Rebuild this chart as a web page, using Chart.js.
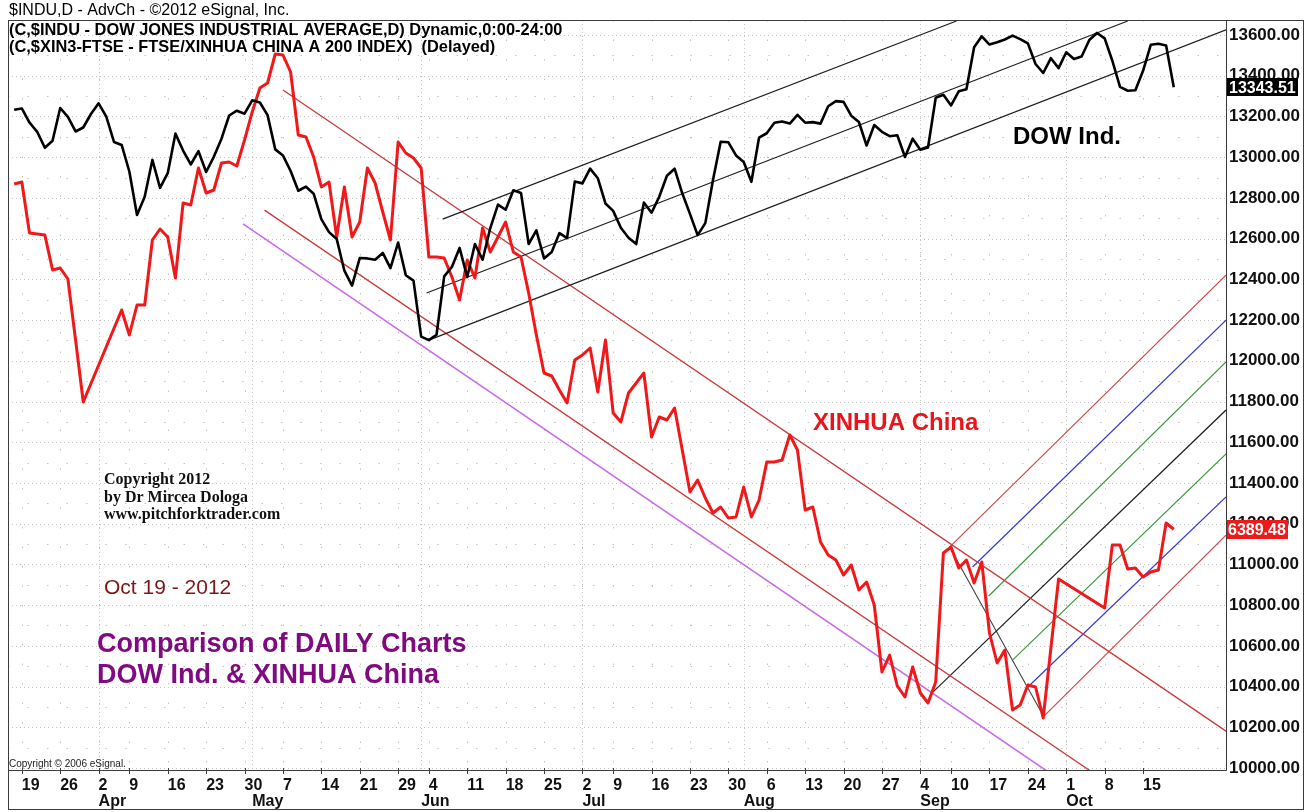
<!DOCTYPE html>
<html><head><meta charset="utf-8">
<script src="https://cdn.jsdelivr.net/npm/chart.js@4.4.0/dist/chart.umd.min.js"></script>
<style>html,body{margin:0;padding:0;background:#fff;}#wrap{width:1312px;height:812px;}</style>
</head><body><div id="wrap"><canvas id="c" width="1312" height="812"></canvas></div>
<script>
// trading-day index of the first close (Mar 16, 2012); Mar 19 = 0, Oct 19 = 150
const firstIndex = -1;

// DOW Jones Industrial Average daily closes, Mar 16 .. Oct 19 2012
const dowClose = [
13232.62,13239.13,13170.19,13124.62,13046.14,13080.73,13241.63,13197.73,13126.21,13145.82,13212.04,
13264.49,13199.55,13074.75,13060.14,12929.59,12715.93,12805.39,12986.58,12849.59,12921.41,13115.54,13032.75,12964.10,13029.26,12927.17,13001.56,13090.72,13204.62,13228.31,13213.63,
13279.32,13268.57,13206.59,13038.27,13008.53,12932.09,12835.06,12855.04,12820.60,12695.35,12632.00,12598.55,12442.49,12369.38,12504.48,12502.81,12496.15,12529.75,12454.83,12580.69,12419.86,12393.45,
12118.57,12101.46,12127.95,12414.79,12460.96,12554.20,12411.23,12573.80,12496.38,12651.91,12767.17,12741.82,12837.33,12824.39,12573.57,12640.78,12502.66,12534.67,12627.01,12602.26,12880.09,
12871.39,12943.82,12896.67,12772.47,12736.29,12653.12,12604.53,12573.27,12777.09,12727.21,12805.54,12908.70,12943.36,12822.57,12721.46,12617.32,12676.05,12887.93,13075.66,13073.01,13008.68,
12976.13,12878.88,13096.17,13117.51,13168.60,13175.64,13165.19,13207.95,13169.43,13172.14,13164.78,13250.11,13275.20,13271.64,13203.58,13172.76,13057.46,13157.97,13124.67,13102.99,13107.48,13000.71,13090.84,
13035.94,13047.48,13292.00,13306.64,13254.29,13323.36,13333.35,13539.86,13593.37,13553.10,13564.64,13577.96,13596.93,13579.47,13558.92,13457.55,13413.51,13485.97,13437.13,
13515.11,13482.36,13494.61,13575.36,13610.15,13583.65,13473.53,13344.97,13326.39,13328.85,13424.23,13551.78,13557.00,13548.94,13343.51
];

// FTSE/Xinhua China A200 closes on the same days (null = China market holiday)
const xinClose = [
7080,7084,6982,6980,6978,6908,6912,6890,6768,6644,null,
null,null,null,6828,6778,6838,6838,6968,6990,6974,6892,7042,7038,7112,7062,7068,7122,7124,7116,7168,
7224,7272,7282,7340,7338,7304,7178,7174,7134,7074,7084,6974,7074,6974,7004,7112,7082,7024,6968,7164,7142,7132,
7112,6934,6934,6932,6894,6848,6928,6892,6992,6944,6974,7004,6944,6934,6862,6778,6702,6696,6668,6642,6728,
6738,6752,6664,6768,6622,6604,6662,6682,6702,6574,6614,6608,6632,6548,6464,6488,6452,6422,6434,6412,6414,
6474,6414,6448,6524,6524,6528,6578,6548,6428,6434,6364,6338,6328,6298,6318,6268,6284,6238,6104,6138,6076,6054,6114,
6062,6042,6084,6342,6354,6312,6328,6282,6324,6182,6122,6148,6028,6038,6078,6074,6012,6152,6290,
null,null,null,null,null,6232,6358,6358,6310,6312,6294,6304,6308,6402,6389.48
];

// x axis: weekly ticks (trading-day index) and their day labels, month starts
const tickIdx = [0,5,10,14,19,24,29,34,39,44,49,53,58,63,68,73,77,82,87,92,97,102,107,112,117,121,126,131,136,141,146];
const tickDay = ['19','26','2','9','16','23','30','7','14','21','29','4','11','18','25','2','9','16','23','30','6','13','20','27','4','10','17','24','1','8','15'];
const monthIdx = [10,30,52,73,94,117,136];
const monthName = ['Apr','May','Jun','Jul','Aug','Sep','Oct'];

// y axis tick values (DOW scale)
const yTicks = [10000,10200,10400,10600,10800,11000,11200,11400,11600,11800,12000,12200,12400,12600,12800,13000,13200,13400,13600];

// drawn trend lines: [trading-day index, DOW-scale value] end points
const dowLower   = [[53.0,12101.5],[156.8,13625]];
const dowMiddle  = [[52.7,12333],[144.0,13669]];
const dowUpper   = [[54.8,12696],[121.7,13669]];
const xinUpper   = [[34.0,13330],[156.8,10181]];
const xinMiddle  = [[31.6,12740],[140.4,9953]];
const xinLower   = [[28.8,12672],[135.2,9941]];
const pfRedUp    = [[120.8,11085],[156.8,12421]];
const pfBlueUp   = [[123.8,10987],[156.8,12200]];
const pfGreenUp  = [[125.9,10845],[156.8,11994]];
const pfMedian   = [[118.5,10368],[156.8,11758]];
const pfGreenLo  = [[129.0,10530],[156.8,11542]];
const pfBlueLo   = [[131.0,10398],[156.8,11331]];
const pfRedLo    = [[133.1,10255],[156.8,11144]];
const pfHandle   = [[120.8,11085],[133.1,10250]];

const SANS = '"Liberation Sans", Arial, sans-serif';
const SERIF = '"Liberation Serif", "Times New Roman", serif';

const pts = arr => arr.map((v, i) => ({x: firstIndex + i, y: v}));
const seg = a => a.map(p => ({x: p[0], y: p[1]}));

// combined tick list for the x axis
const tickList = [];
tickIdx.forEach((v, i) => tickList.push({v, day: tickDay[i], mon: ''}));
monthIdx.forEach((v, i) => {
  const t = tickList.find(o => o.v === v);
  if (t) t.mon = monthName[i]; else tickList.push({v, day: '', mon: monthName[i]});
});
tickList.sort((a, b) => a.v - b.v);

function thin(data, color, w) {
  return {data: seg(data), borderColor: color, borderWidth: w || 1.2, pointRadius: 0, yAxisID: 'y', fill: false};
}

const gridPlugin = {
  id: 'bgGrid',
  beforeDatasetsDraw(chart) {
    const {ctx, chartArea: a, scales: {x, y}} = chart;
    ctx.save();
    ctx.beginPath(); ctx.rect(a.left, a.top, a.right - a.left, a.bottom - a.top); ctx.clip();
    ctx.lineWidth = 1; ctx.strokeStyle = '#c4c4c4';
    yTicks.forEach(v => {
      [v, v + 100].forEach((vv, k) => {
        const py = Math.round(y.getPixelForValue(vv)) + 0.5;
        ctx.setLineDash(k === 0 ? [1, 3] : [1.5, 18]);
        ctx.beginPath(); ctx.moveTo(a.left, py); ctx.lineTo(a.right, py); ctx.stroke();
      });
    });
    tickIdx.forEach(v => {
      const px = Math.round(x.getPixelForValue(v)) + 0.5;
      ctx.setLineDash([1.5, 18]);
      ctx.beginPath(); ctx.moveTo(px, a.top); ctx.lineTo(px, a.bottom); ctx.stroke();
    });
    monthIdx.forEach(v => {
      const px = Math.round(x.getPixelForValue(v)) + 0.5;
      ctx.setLineDash([1, 3]);
      ctx.beginPath(); ctx.moveTo(px, a.top); ctx.lineTo(px, a.bottom); ctx.stroke();
    });
    ctx.setLineDash([]);
    // header texts and notes (under the series)
    ctx.textBaseline = 'middle'; ctx.textAlign = 'left';
    ctx.fillStyle = '#000';
    ctx.font = 'bold 16.4px ' + SANS;
    ctx.fillText('(C,$INDU - DOW JONES INDUSTRIAL AVERAGE,D) Dynamic,0:00-24:00', 9, 30);
    ctx.fillText('(C,$XIN3-FTSE - FTSE/XINHUA CHINA A 200 INDEX)  (Delayed)', 9, 47);
    ctx.font = 'bold 24px ' + SANS;
    ctx.fillText('DOW Ind.', 1013, 137);
    ctx.fillStyle = '#e8161c';
    ctx.fillText('XINHUA China', 813, 423);
    ctx.fillStyle = '#111';
    ctx.font = 'bold 16px ' + SERIF;
    ctx.fillText('Copyright 2012', 104, 480);
    ctx.fillText('by Dr Mircea Dologa', 104, 497.5);
    ctx.fillText('www.pitchforktrader.com', 104, 515);
    ctx.fillStyle = '#7a1717';
    ctx.font = '21px ' + SANS;
    ctx.fillText('Oct 19 - 2012', 104, 588);
    ctx.fillStyle = '#800a80';
    ctx.font = 'bold 27px ' + SANS;
    ctx.fillText('Comparison of DAILY Charts', 97, 645);
    ctx.fillText('DOW Ind. & XINHUA China', 97, 676);
    ctx.fillStyle = '#222';
    ctx.font = '10px ' + SANS;
    ctx.fillText('Copyright \u00A9 2006 eSignal.', 9, 764);
    ctx.restore();
  }
};

const decorPlugin = {
  id: 'decor',
  afterDraw(chart) {
    const {ctx, chartArea: a, scales: {x, y, y2}} = chart;
    ctx.save();
    ctx.setLineDash([]);
    ctx.strokeStyle = '#3c3c3c'; ctx.lineWidth = 1;
    ctx.strokeRect(8.5, 20.5, 1295, 789);
    ctx.beginPath();
    ctx.moveTo(a.right + 0.5, a.top); ctx.lineTo(a.right + 0.5, a.bottom + 0.5); ctx.lineTo(a.left, a.bottom + 0.5);
    tickIdx.forEach(v => { const px = Math.round(x.getPixelForValue(v)) + 0.5; ctx.moveTo(px, a.bottom - 2); ctx.lineTo(px, a.bottom + 4); });
    ctx.stroke();
    ctx.fillStyle = '#000';
    ctx.font = '16px ' + SANS; ctx.textBaseline = 'middle'; ctx.textAlign = 'left';
    ctx.fillText('$INDU,D - AdvCh - \u00A92012 eSignal, Inc.', 9, 11);
    // last value boxes
    const lastDow = dowClose[dowClose.length - 1];
    const pd = y.getPixelForValue(lastDow);
    ctx.font = 'bold 16px ' + SANS;
    ctx.fillStyle = '#000'; ctx.fillRect(a.right + 1, Math.round(pd) - 9, 71, 18);
    ctx.fillStyle = '#fff'; ctx.fillText(lastDow.toFixed(2), a.right + 3, pd + 1);
    const lastXin = xinClose[xinClose.length - 1];
    const px2 = y2.getPixelForValue(lastXin);
    ctx.fillStyle = '#ee1a1a'; ctx.fillRect(a.right + 1, Math.round(px2) - 9, 61, 19);
    ctx.fillStyle = '#fff'; ctx.fillText(lastXin.toFixed(2), a.right + 2, px2 + 1);
    ctx.restore();
  }
};

new Chart(document.getElementById('c'), {
  type: 'line',
  data: {
    datasets: [
      {data: pts(dowClose), borderColor: '#000', borderWidth: 2.6, pointRadius: 0, yAxisID: 'y', borderJoinStyle: 'round'},
      {data: pts(xinClose), borderColor: '#f01818', borderWidth: 3, pointRadius: 0, yAxisID: 'y2', spanGaps: true, borderJoinStyle: 'round'},
      thin(dowLower, '#1e1e1e'), thin(dowMiddle, '#1e1e1e'), thin(dowUpper, '#1e1e1e'),
      thin(xinUpper, '#cc3a3a', 1.3), thin(xinMiddle, '#cc3a3a', 1.3), thin(xinLower, '#c86be8', 1.6),
      thin(pfRedUp, '#d04848'), thin(pfBlueUp, '#3636d6'), thin(pfGreenUp, '#3a9a3a'),
      thin(pfMedian, '#202020'), thin(pfGreenLo, '#3a9a3a'), thin(pfBlueLo, '#3636d6'),
      thin(pfRedLo, '#d04848'), thin(pfHandle, '#404040', 1.1)
    ]
  },
  options: {
    responsive: false, animation: false, devicePixelRatio: 1,
    layout: {padding: {left: 8, top: 20, right: 0, bottom: 0}},
    plugins: {legend: {display: false}, tooltip: {enabled: false}},
    elements: {point: {radius: 0}, line: {tension: 0}},
    scales: {
      x: {
        type: 'linear', min: -1.8, max: 156.8,
        afterBuildTicks: s => { s.ticks = tickList.map(t => ({value: t.v})); },
        ticks: {
          callback: (v, i) => [tickList[i].day, tickList[i].mon],
          align: 'start', autoSkip: false, maxRotation: 0, minRotation: 0, padding: 8,
          color: '#111', font: {family: SANS, size: 16, weight: 'bold', lineHeight: 1.0}
        },
        grid: {display: false, drawTicks: false}, border: {display: false},
        afterFit: s => { s.height = 42; }
      },
      y: {
        position: 'right', min: 9990.2, max: 13673.7,
        afterBuildTicks: s => { s.ticks = yTicks.map(v => ({value: v})); },
        ticks: {callback: v => v.toFixed(2), color: '#111', padding: 3, font: {family: SANS, size: 17, weight: 'bold'}},
        grid: {display: false, drawTicks: false}, border: {display: false},
        afterFit: s => { s.width = 86; }
      },
      y2: {display: false, min: 5908, max: 7408}
    }
  },
  plugins: [gridPlugin, decorPlugin]
});
</script>
</body></html>
